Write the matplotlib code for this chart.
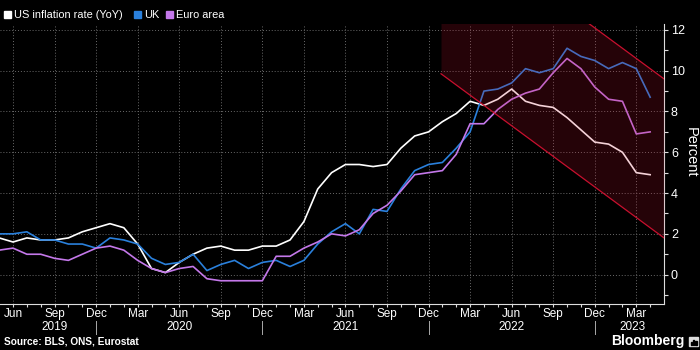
import numpy as np
import matplotlib
matplotlib.use("Agg")
import matplotlib.pyplot as plt
from matplotlib.patches import Rectangle
from matplotlib.transforms import blended_transform_factory

plt.rcParams['font.family'] = ['Liberation Sans', 'DejaVu Sans']

# Monthly data, May 2019 .. Apr 2023 (index 0 = May 2019)
us = [1.8, 1.6, 1.8, 1.7, 1.7, 1.8, 2.1, 2.3,
      2.5, 2.3, 1.5, 0.3, 0.1, 0.6, 1.0, 1.3, 1.4, 1.2, 1.2, 1.4,
      1.4, 1.7, 2.6, 4.2, 5.0, 5.4, 5.4, 5.3, 5.4, 6.2, 6.8, 7.0,
      7.5, 7.9, 8.5, 8.3, 8.6, 9.1, 8.5, 8.3, 8.2, 7.7, 7.1, 6.5,
      6.4, 6.0, 5.0, 4.9]
uk = [2.0, 2.0, 2.1, 1.7, 1.7, 1.5, 1.5, 1.3,
      1.8, 1.7, 1.5, 0.8, 0.5, 0.6, 1.0, 0.2, 0.5, 0.7, 0.3, 0.6,
      0.7, 0.4, 0.7, 1.5, 2.1, 2.5, 2.0, 3.2, 3.1, 4.2, 5.1, 5.4,
      5.5, 6.2, 7.0, 9.0, 9.1, 9.4, 10.1, 9.9, 10.1, 11.1, 10.7, 10.5,
      10.1, 10.4, 10.1, 8.7]
euro = [1.2, 1.3, 1.0, 1.0, 0.8, 0.7, 1.0, 1.3,
        1.4, 1.2, 0.7, 0.3, 0.1, 0.3, 0.4, -0.2, -0.3, -0.3, -0.3, -0.3,
        0.9, 0.9, 1.3, 1.6, 2.0, 1.9, 2.2, 3.0, 3.4, 4.1, 4.9, 5.0,
        5.1, 5.9, 7.4, 7.4, 8.1, 8.6, 8.9, 9.1, 9.9, 10.6, 10.1, 9.2,
        8.6, 8.5, 6.9, 7.0]
months = np.arange(len(us))

tick_idx = [1, 4, 7, 10, 13, 16, 19, 22, 25, 28, 31, 34, 37, 40, 43, 46]
tick_labels = ['Jun', 'Sep', 'Dec', 'Mar'] * 4
year_idx = [4, 13, 25, 37, 45.7]
year_labels = ['2019', '2020', '2021', '2022', '2023']
year_sep_idx = [7, 19, 31, 43]

# Shaded channel (downward trend band)
band_x = [31.9, 48.0]
band_lower = [9.85, 1.8]
band_upper = [17.65, 9.6]

BG = '#000000'
fig = plt.figure(figsize=(7, 3.5), dpi=100, facecolor=BG)
ax = fig.add_axes([0.0, 46 / 350, 664 / 700, 280 / 350])
ax.set_facecolor(BG)

ax.plot(months, us, color='#ffffff', lw=1.2, zorder=3)
ax.plot(months, uk, color='#2a80dc', lw=1.2, zorder=3)
ax.plot(months, euro, color='#c478ea', lw=1.2, zorder=3)

ax.fill_between(band_x, band_lower, band_upper, color='#c8102e', alpha=0.19,
                lw=0, zorder=4)
ax.plot(band_x, band_lower, color='#c8102e', lw=0.9, zorder=5)
ax.plot(band_x, band_upper, color='#c8102e', lw=0.9, zorder=5)

ax.set_xlim(0.06, 48.0)
ax.set_ylim(-1.44, 12.29)

# axes styling
for s in ['left', 'top']:
    ax.spines[s].set_visible(False)
ax.spines['right'].set_color('#dddddd')
ax.spines['bottom'].set_color('#dddddd')
ax.spines['right'].set_linewidth(0.8)
ax.spines['bottom'].set_linewidth(0.8)

ax.yaxis.tick_right()
ax.set_yticks(np.arange(0, 13, 2))
ax.set_yticks(np.arange(-1, 13, 1), minor=True)
ax.tick_params(axis='y', which='both', colors='#dddddd', labelcolor='white',
               labelsize=9, length=3, width=0.8, pad=2)
ax.set_xticks(tick_idx)
ax.set_xticklabels(tick_labels)
ax.set_xticks(np.arange(1, 48, 1), minor=True)
ax.tick_params(axis='x', which='both', colors='#dddddd', labelcolor='white',
               labelsize=8.5, length=2, width=0.8, pad=1)

ax.grid(True, which='major', color='#6a6a6a', linestyle=(0, (1, 2)), lw=0.7)
ax.set_axisbelow(True)

fig.text(691 / 700, 1 - 152 / 350, 'Percent', color='white', fontsize=10.5,
         rotation=270, ha='center', va='center')

trans = blended_transform_factory(ax.transData, fig.transFigure)
for xi, lab in zip(year_idx, year_labels):
    fig.text(xi, 1 - 327 / 350, lab, transform=trans, color='white',
             fontsize=8.5, ha='center', va='center')
for xi in year_sep_idx:
    fig.add_artist(plt.Line2D([xi, xi], [1 - 321 / 350, 1 - 334 / 350],
                              transform=trans, color='#aaaaaa', lw=0.7))

# legend
leg = [('US inflation rate (YoY)', '#ffffff', 4),
       ('UK', '#2a80dc', 134),
       ('Euro area', '#c478ea', 166)]
for lab, col, px in leg:
    fig.add_artist(Rectangle((px / 700, 1 - 18 / 350), 7 / 700, 7 / 350,
                             transform=fig.transFigure, color=col))
    fig.text((px + 10) / 700, 1 - 14.5 / 350, lab, color='white',
             fontsize=7.9, va='center', ha='left')

fig.text(4 / 700, 1 - 342 / 350, 'Source: BLS, ONS, Eurostat', color='white',
         fontsize=7.3, fontweight='bold', va='center', ha='left')
fig.text(685 / 700, 1 - 341 / 350, 'Bloomberg', color='white',
         fontsize=10, fontweight='bold', va='center', ha='right')
# small logo mark next to the wordmark
fig.add_artist(Rectangle((689 / 700, 1 - 346 / 350), 9 / 700, 9 / 350,
                         transform=fig.transFigure, color='#dddddd'))
for bx, bh in [(691, 3), (693.2, 5), (695.4, 4)]:
    fig.add_artist(Rectangle((bx / 700, 1 - 345 / 350), 1.2 / 700, bh / 350,
                             transform=fig.transFigure, color='#000000'))

fig.savefig('out.png', dpi=100, facecolor=BG)
